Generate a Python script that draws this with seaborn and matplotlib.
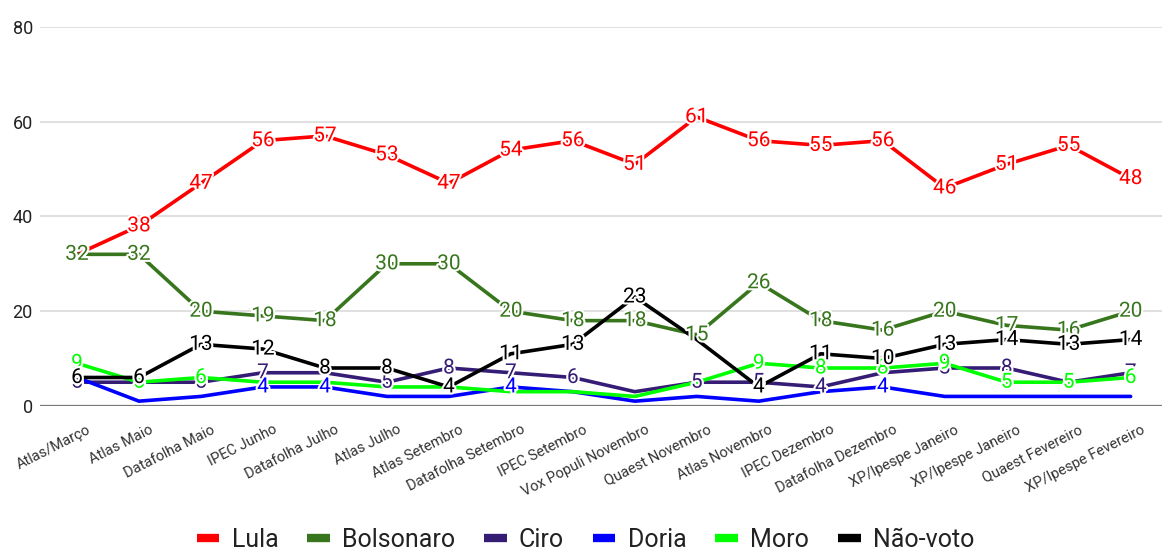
import matplotlib
matplotlib.use("Agg")
import matplotlib.pyplot as plt
import matplotlib.patheffects as pe
import matplotlib.transforms as mtransforms
from matplotlib.lines import Line2D
import seaborn as sns
import pandas as pd

pesquisas = [
    "Atlas/Março", "Atlas Maio", "Datafolha Maio", "IPEC Junho", "Datafolha Julho",
    "Atlas Julho", "Atlas Setembro", "Datafolha Setembro", "IPEC Setembro",
    "Vox Populi Novembro", "Quaest Novembro", "Atlas Novembro", "IPEC Dezembro",
    "Datafolha Dezembro", "XP/Ipespe Janeiro", "XP/Ipespe Janeiro", "Quaest Fevereiro",
    "XP/Ipespe Fevereiro",
]

lula = [32, 38, 47, 56, 57, 53, 47, 54, 56, 51, 61, 56, 55, 56, 46, 51, 55, 48]
bolsonaro = [32, 32, 20, 19, 18, 30, 30, 20, 18, 18, 15, 26, 18, 16, 20, 17, 16, 20]
ciro = [5, 5, 5, 7, 7, 5, 8, 7, 6, 3, 5, 5, 4, 7, 8, 8, 5, 7]
doria = [6, 1, 2, 4, 4, 2, 2, 4, 3, 1, 2, 1, 3, 4, 2, 2, 2, 2]
moro = [9, 5, 6, 5, 5, 4, 4, 3, 3, 2, 5, 9, 8, 8, 9, 5, 5, 6]
nao_voto = [6, 6, 13, 12, 8, 8, 4, 11, 13, 23, 14, 4, 11, 10, 13, 14, 13, 14]

# which points carry a value annotation (others collide with neighbours)
rotulos_ciro = [0, 1, 2, 3, 5, 6, 7, 8, 10, 11, 12, 14, 15, 17]
rotulos_doria = [3, 4, 7, 13]
rotulos_moro = [0, 1, 2, 11, 12, 13, 14, 15, 16, 17]
rotulos_nao_voto = [0, 1, 2, 3, 4, 5, 6, 7, 8, 9, 11, 12, 13, 14, 15, 16, 17]

series = {
    "Lula": (lula, list(range(len(pesquisas)))),
    "Bolsonaro": (bolsonaro, list(range(len(pesquisas)))),
    "Ciro": (ciro, rotulos_ciro),
    "Doria": (doria, rotulos_doria),
    "Moro": (moro, rotulos_moro),
    "Não-voto": (nao_voto, rotulos_nao_voto),
}
cores = {
    "Lula": "#ff0000",
    "Bolsonaro": "#38761d",
    "Ciro": "#351c75",
    "Doria": "#0000ff",
    "Moro": "#00ff00",
    "Não-voto": "#000000",
}

linhas = []
for nome, (vals, _) in series.items():
    for i, v in enumerate(vals):
        linhas.append({"idx": i, "valor": v, "candidato": nome})
df = pd.DataFrame(linhas)

sns.set_theme(style="white")
plt.rcParams["font.family"] = ["Roboto", "DejaVu Sans"]

fig = plt.figure(figsize=(11.71, 5.5), dpi=100)
ax = fig.add_axes([0.034, 0.262, 0.958, 0.689])

sns.lineplot(data=df, x="idx", y="valor", hue="candidato",
             hue_order=list(series.keys()), palette=cores,
             linewidth=2.6, ax=ax, legend=False, sort=False)

halo = [pe.withStroke(linewidth=3, foreground="white")]
for nome, (vals, mostrar) in series.items():
    for i in mostrar:
        ax.text(i, vals[i], str(vals[i]), color=cores[nome], fontsize=15,
                ha="center", va="center", path_effects=halo, zorder=5)

ax.set_xlim(-0.6, 17.5)
ax.set_ylim(0, 80)
ax.set_yticks([0, 20, 40, 60, 80])
ax.yaxis.grid(True, color="#dddddd", linewidth=1.3)
ax.axhline(0, color="#777777", linewidth=1.6, zorder=3)
for s in ax.spines.values():
    s.set_visible(False)
ax.tick_params(axis="y", length=0, labelsize=13, labelcolor="#222222", pad=5)
ax.set_xticks(range(len(pesquisas)))
ax.set_xticklabels(pesquisas, rotation=27, ha="right", rotation_mode="anchor",
                   fontsize=10.5, color="#333333")
ax.tick_params(axis="x", length=0, pad=12)
deslocamento = mtransforms.ScaledTranslation(10 / 100, 0, fig.dpi_scale_trans)
for rotulo in ax.get_xticklabels():
    rotulo.set_transform(rotulo.get_transform() + deslocamento)
ax.set_xlabel("")
ax.set_ylabel("")

handles = [Line2D([], [], color=cores[n], linewidth=6, solid_capstyle="butt")
           for n in series]
fig.legend(handles, list(series.keys()), loc="center", bbox_to_anchor=(0.5, 0.018),
           ncol=6, frameon=False, fontsize=18, handlelength=0.9,
           handletextpad=0.5, columnspacing=1.15, labelcolor="#222222")

fig.savefig("out.png", dpi=100, facecolor="white")
